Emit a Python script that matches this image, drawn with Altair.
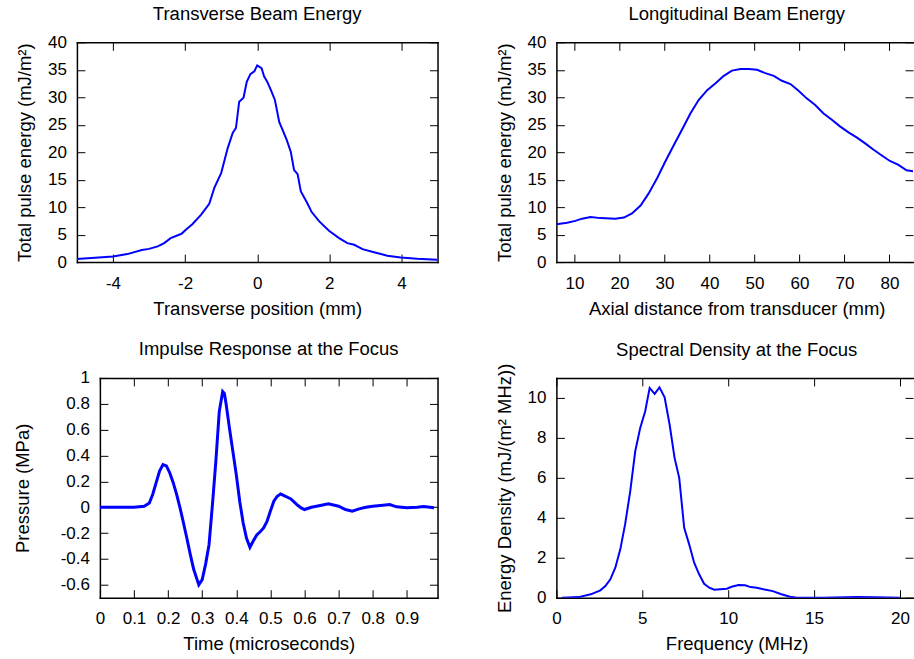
import altair as alt
import pandas as pd

FONT = "Liberation Sans"
BLUE = "#0000ff"

# ---------------- data ----------------
trans_x = [-5.0, -4.0, -3.6, -3.2, -3.0, -2.76, -2.58, -2.4, -2.1, -1.98, -1.8, -1.56,
           -1.33, -1.19, -1.0, -0.82, -0.68, -0.59, -0.5, -0.38, -0.29, -0.19, -0.08, 0.0,
           0.12, 0.19, 0.28, 0.38, 0.49, 0.61, 0.7, 0.82, 0.93, 1.02, 1.12, 1.21, 1.39,
           1.51, 1.72, 1.99, 2.27, 2.5, 2.69, 2.92, 3.24, 3.61, 3.98, 4.44, 4.99]
trans_y = [0.55, 1.0, 1.45, 2.2, 2.4, 2.85, 3.45, 4.35, 5.15, 5.9, 6.9, 8.6,
           10.6, 13.5, 16.2, 20.7, 23.5, 24.4, 29.2, 29.9, 32.8, 34.2, 34.7, 35.8,
           35.3, 33.8, 32.8, 31.3, 29.5, 25.5, 24.1, 22.2, 20.1, 16.8, 16.0, 12.85, 10.7,
           9.1, 7.4, 5.7, 4.35, 3.45, 3.15, 2.35, 1.8, 1.15, 0.85, 0.6, 0.42]

long_x = [6.0, 8.4, 10.2, 11.7, 13.6, 15.8, 18.0, 19.1, 21.0, 22.8, 24.7, 26.5, 28.4,
          30.2, 32.1, 33.9, 35.8, 37.6, 39.5, 41.3, 43.2, 45.0, 46.9, 48.7, 50.6, 52.4,
          54.3, 56.1, 58.0, 59.8, 61.6, 63.5, 65.3, 67.2, 69.0, 70.9, 72.7, 74.6, 76.4,
          78.3, 80.1, 82.0, 83.8, 85.4, 86.0]
long_y = [6.9, 7.15, 7.5, 7.9, 8.2, 8.0, 7.95, 7.9, 8.1, 8.85, 10.3, 12.5, 15.3,
          18.3, 21.3, 24.1, 27.1, 29.5, 31.3, 32.5, 33.9, 34.85, 35.15, 35.15, 35.0, 34.4,
          33.9, 33.0, 32.4, 31.2, 29.8, 28.6, 27.1, 25.9, 24.7, 23.6, 22.7, 21.6, 20.5,
          19.4, 18.4, 17.7, 16.7, 16.5, 16.3]

imp_t = [0.0, 0.05, 0.10, 0.13, 0.145, 0.155, 0.165, 0.175, 0.185, 0.195, 0.205, 0.215,
         0.225, 0.235, 0.245, 0.255, 0.265, 0.275, 0.285, 0.29, 0.30, 0.31, 0.32, 0.33,
         0.34, 0.35, 0.36, 0.365, 0.37, 0.38, 0.39, 0.40, 0.41, 0.42, 0.43, 0.44, 0.45,
         0.46, 0.47, 0.48, 0.49, 0.50, 0.51, 0.52, 0.53, 0.54, 0.55, 0.56, 0.57, 0.58,
         0.59, 0.60, 0.62, 0.65, 0.67, 0.70, 0.72, 0.74, 0.76, 0.78, 0.80, 0.83, 0.85,
         0.87, 0.90, 0.93, 0.95, 0.98]
imp_p = [0.0, 0.0, 0.0, 0.008, 0.033, 0.10, 0.19, 0.28, 0.33, 0.32, 0.265, 0.19,
         0.10, -0.005, -0.12, -0.24, -0.365, -0.48, -0.56, -0.60, -0.56, -0.44, -0.29, 0.02,
         0.355, 0.74, 0.895, 0.88, 0.80, 0.61, 0.43, 0.25, 0.046, -0.12, -0.24, -0.31, -0.26,
         -0.215, -0.19, -0.16, -0.11, -0.03, 0.046, 0.085, 0.103, 0.09, 0.077, 0.064, 0.04, 0.015,
         -0.005, -0.018, 0.0, 0.015, 0.026, 0.008, -0.018, -0.03, -0.013, 0.0, 0.008, 0.015, 0.02,
         0.003, -0.005, 0.0, 0.005, -0.005]

spec_f = [0.33, 1.3, 2.0, 2.56, 2.85, 3.14, 3.43, 3.72, 4.0, 4.3, 4.59, 4.88, 5.17, 5.43,
          5.72, 6.0, 6.3, 6.59, 6.88, 7.15, 7.44, 7.73, 8.02, 8.31, 8.6, 8.9, 9.19, 9.53,
          9.92, 10.2, 10.6, 10.99, 11.3, 11.67, 12.05, 12.6, 13.1, 13.6, 14.0, 15.5, 17.5,
          18.6, 20.0]
spec_e = [0.0, 0.03, 0.17, 0.37, 0.58, 0.92, 1.5, 2.42, 3.67, 5.33, 7.33, 8.5, 9.33, 10.5,
          10.2, 10.53, 10.03, 8.67, 7.0, 6.0, 3.5, 2.67, 1.75, 1.17, 0.7, 0.5, 0.4, 0.42,
          0.45, 0.55, 0.63, 0.62, 0.53, 0.5, 0.42, 0.33, 0.17, 0.05, 0.0, 0.0, 0.03,
          0.02, 0.0]

trans_ticks = [-4, -2, 0, 2, 4]
energy_ticks = [0, 5, 10, 15, 20, 25, 30, 35, 40]
long_ticks = [10, 20, 30, 40, 50, 60, 70, 80]
time_ticks = [0, 0.1, 0.2, 0.3, 0.4, 0.5, 0.6, 0.7, 0.8, 0.9]
press_ticks = [-0.6, -0.4, -0.2, 0, 0.2, 0.4, 0.6, 0.8, 1]
freq_ticks = [0, 5, 10, 15, 20]
dens_ticks = [0, 2, 4, 6, 8, 10]

LABEL_EXPR = "replace(format(datum.value, '~g'), '\u2212', '-')"
INWARD = alt.ExprRef(expr="-8")   # inward ticks (gnuplot style)


def panel(x, y, xdom, ydom, xticks, yticks, title, xtitle, ytitle, width, ytp,
          sw=2.0, right_border=True, toff=10, tdx=0, xtitle_x=None):
    df = pd.DataFrame({"x": x, "y": y})
    base = alt.Chart(df)
    xaxis_kw = dict(values=xticks, title=xtitle, orient="bottom", tickSize=INWARD,
                    labelPadding=21, titlePadding=8, labelExpr=LABEL_EXPR)
    if xtitle_x is not None:
        xaxis_kw["titleX"] = xtitle_x
    line = base.mark_line(color=BLUE, strokeWidth=sw, clip=True).encode(
        x=alt.X("x:Q", scale=alt.Scale(domain=xdom, nice=False, zero=False),
                axis=alt.Axis(**xaxis_kw)),
        y=alt.Y("y:Q", scale=alt.Scale(domain=ydom, nice=False, zero=False),
                axis=alt.Axis(values=yticks, title=ytitle, orient="left", tickSize=INWARD,
                              labelPadding=18.5, titlePadding=ytp, labelExpr=LABEL_EXPR)),
    )
    mirror = base.mark_line(opacity=0, clip=True).encode(
        x=alt.X("x:Q", axis=alt.Axis(values=xticks, title=None, orient="top", labels=False,
                                     tickSize=INWARD)),
        y=alt.Y("y:Q", axis=alt.Axis(values=yticks, title=None, orient="right", labels=False,
                                     tickSize=INWARD, domain=right_border)),
    )
    return alt.layer(line, mirror).resolve_axis(x="independent", y="independent").properties(
        width=width, height=220, title=alt.TitleParams(title, offset=toff, dx=tdx))


def spacer(w):
    return alt.Chart(pd.DataFrame({"s": [0]})).mark_point(
        size=0, opacity=0, strokeWidth=0).encode(
        x=alt.value(0), y=alt.value(0)).properties(width=w, height=1)


A = panel(trans_x, trans_y, [-5, 5], [0, 40], trans_ticks, energy_ticks,
          "Transverse Beam Energy", "Transverse position (mm)",
          "Total pulse energy (mJ/m²)", 361, 12.8)
B = panel(long_x, long_y, [6, 85.23], [0, 40], long_ticks, energy_ticks,
          "Longitudinal Beam Energy", "Axial distance from transducer (mm)",
          "Total pulse energy (mJ/m²)", 357, 12.8, right_border=False, tdx=2, xtitle_x=180.5)
C = panel(imp_t, imp_p, [0, 0.99], [-0.7, 1], time_ticks, press_ticks,
          "Impulse Response at the Focus", "Time (microseconds)",
          "Pressure (MPa)", 338, 27.8, sw=3.0)
D = panel(spec_f, spec_e, [0, 20.76], [0, 11], freq_ticks, dens_ticks,
          "Spectral Density at the Focus", "Frequency (MHz)",
          "Energy Density (mJ/(m² MHz))", 357, 12.1, right_border=False, toff=3.8,
          tdx=2, xtitle_x=180.5)

row1 = alt.hconcat(spacer(76), alt.hconcat(A, B, spacing=119, bounds="flush"),
                   spacing=0, bounds="flush")
row2 = alt.hconcat(spacer(99), alt.hconcat(C, D, spacing=119, bounds="flush"),
                   spacing=0, bounds="flush")

chart = alt.vconcat(row1, row2, spacing=22).properties(
    padding={"left": 0, "top": 4, "right": 0, "bottom": 0},
).configure(font=FONT).configure_view(stroke="transparent").configure_axis(
    labelFont=FONT, titleFont=FONT, labelFontSize=17, titleFontSize=18.5,
    titleFontWeight="normal", labelColor="black", titleColor="black",
    tickColor="black", tickWidth=1, grid=False,
    domain=True, domainColor="black", domainWidth=1.5, domainCap="square",
    labelFlush=False, labelOverlap=False,
).configure_title(font=FONT, fontSize=18.5, fontWeight="normal", color="black", anchor="middle")

chart.save("out.html", embed_options={"renderer": "svg", "actions": False})
